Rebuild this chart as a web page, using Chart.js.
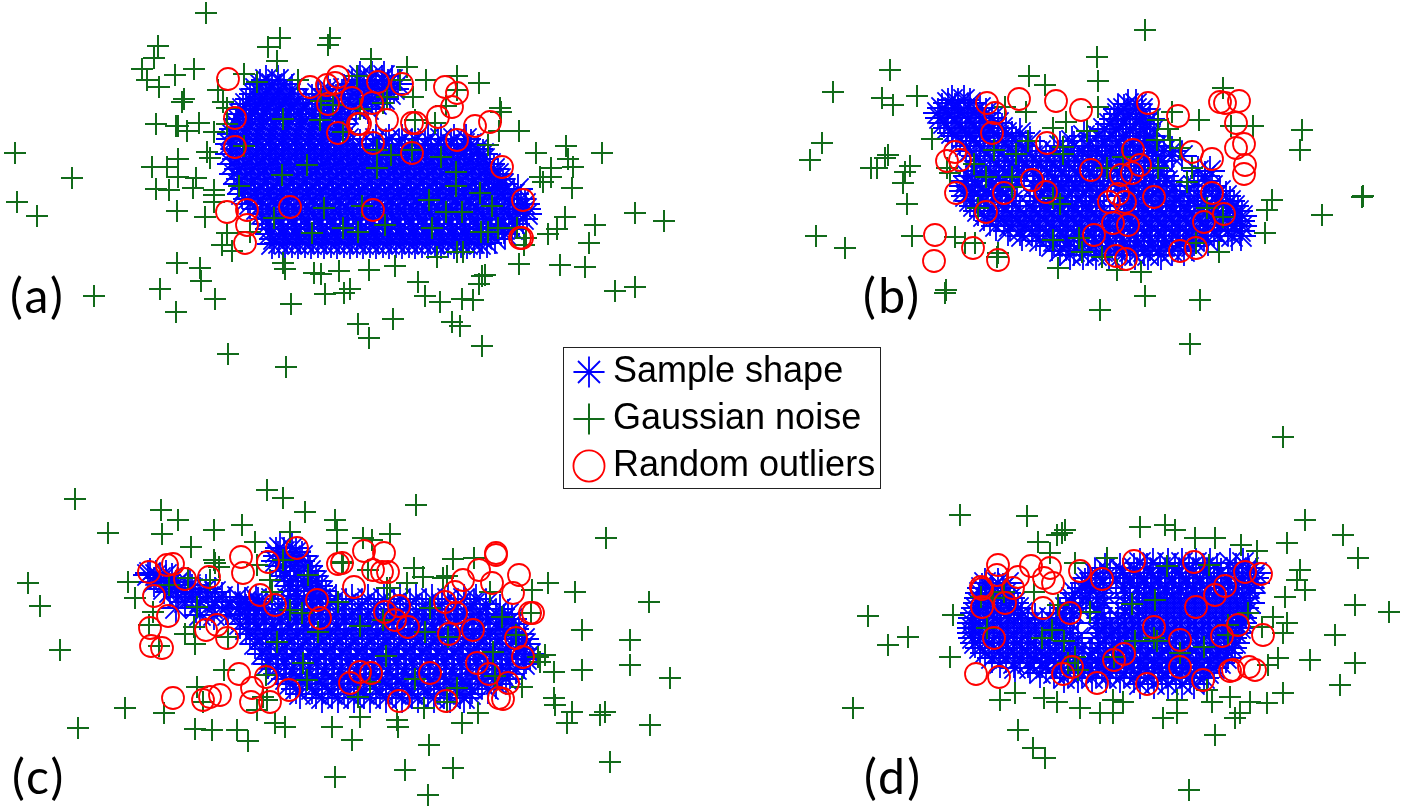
<!DOCTYPE html>
<html><head><meta charset="utf-8">
<style>html,body{margin:0;padding:0;background:#fff;overflow:hidden}canvas{display:block}</style>
<script src="https://cdn.jsdelivr.net/npm/chart.js@4/dist/chart.umd.min.js"></script>
</head><body><canvas id="c" width="1423" height="812"></canvas>
<script>
// Sample shape: each row is [y, x, x, ...]
const sampleA = [
[76,360,372,384],[84,260,272,284,352,364,376,388,398],[94,254,266,278,290,318,330,342,354,366,378,390],
[104,246,258,270,282,294,306,322,336,350,364,376],[114,240,252,264,276,288,300,312,324,336,348],
[124,236,249,262,275,288,301,314,327,340],[134,232,245,258,271,284,297,310,323,336,346],
[144,230,243,256,269,282,295,308,321,334,347,360,373,386,399,412,425,438,451,464,471],
[154,230,243,256,269,282,295,308,321,334,347,360,373,386,399,412,425,438,451,464,477,483],
[164,232,245,258,271,284,297,310,323,336,349,362,375,388,401,414,427,440,453,466,479,490],
[174,234,247,260,273,286,299,312,325,338,351,364,377,390,403,416,429,442,455,468,481,494,498],
[184,238,251,264,277,290,303,316,329,342,355,368,381,394,407,420,433,446,459,472,485,498,503],
[194,242,255,268,281,294,307,320,333,346,359,372,385,398,411,424,437,450,463,476,489,502,514],
[204,250,263,276,289,302,315,328,341,354,367,380,393,406,419,432,445,458,471,484,497,510,525],
[214,262,275,288,301,314,327,340,353,366,379,392,405,418,431,444,457,470,483,496,509,527],
[224,268,281,294,307,320,333,346,359,372,385,398,411,424,437,450,463,476,489,502,515],
[234,270,283,296,309,322,335,348,361,374,387,400,413,426,439,452,465,478,491,505],
[244,272,285,298,311,324,337,350,363,376,389,402,415,428,441,454,467,480],
[80,266,278,358,370,382,392],[89,256,268,280,292,328,344,358,370,382,394],[99,250,262,274,286,298,312,324,336,348,360,372,384],
[109,243,255,267,279,291,303,316,329,342,356,368],[119,238,250,263,276,289,302,315,328,341],[129,234,247,260,273,286,299,312,325,338],
[139,231,244,257,270,283,296,309,322,335,348,376,389,402,415,428,441,454,466],
[149,236,249,262,275,288,301,314,327,340,353,366,379,392,405,418,431,444,457,470,478],
[159,237,250,263,276,289,302,315,328,341,354,367,380,393,406,419,432,445,458,471,484],
[169,239,252,265,278,291,304,317,330,343,356,369,382,395,408,421,434,447,460,473,486,494],
[179,241,254,267,280,293,306,319,332,345,358,371,384,397,410,423,436,449,462,475,488,500],
[189,245,258,271,284,297,310,323,336,349,362,375,388,401,414,427,440,453,466,479,492,505,518],
[199,248,261,274,287,300,313,326,339,352,365,378,391,404,417,430,443,456,469,482,495,508,521],
[209,257,270,283,296,309,322,335,348,361,374,387,400,413,426,439,452,465,478,491,504,517,526],
[219,266,279,292,305,318,331,344,357,370,383,396,409,422,435,448,461,474,487,500,513,523],
[229,270,283,296,309,322,335,348,361,374,387,400,413,426,439,452,465,478,491,504,512],
[239,274,287,300,313,326,339,352,365,378,391,404,417,430,443,456,469,482,495],
[243,279,292,305,318,331,344,357,370,383,396,409,422,435,448,461,474,487]
];
const sampleB = [
[100,952,964],[108,942,955,968,980],[118,940,954,968,982,992],[128,948,962,976,990,1002],
[104,1128,1136],[114,1118,1130,1142],[124,1110,1123,1136,1146],
[136,956,970,984,998,1012,1084,1098,1112,1126,1140,1150],
[146,966,980,994,1008,1022,1060,1074,1088,1102,1116,1130,1144,1156],
[156,976,990,1004,1018,1032,1046,1060,1074,1088,1102,1116,1130,1144,1158,1172,1182],
[166,985,999,1013,1027,1041,1055,1069,1083,1097,1111,1125,1139,1153],
[176,968,982,996,1010,1024,1038,1052,1066,1080,1094,1108,1122,1136,1150,1164,1205],
[186,964,978,992,1006,1034,1048,1062,1076,1090,1104,1118,1132,1146,1160,1174,1194,1212],
[196,966,980,994,1008,1040,1054,1068,1082,1096,1124,1138,1152,1166,1180,1198,1216,1226],
[206,974,988,1002,1016,1030,1044,1058,1072,1086,1100,1128,1142,1156,1170,1184,1198,1212,1226,1234],
[216,984,998,1012,1026,1040,1054,1068,1082,1096,1110,1124,1138,1152,1166,1180,1194,1208,1222,1236,1242],
[226,996,1010,1024,1038,1052,1066,1080,1094,1108,1122,1136,1150,1164,1178,1192,1206,1220,1234,1242],
[236,1022,1036,1050,1064,1078,1092,1106,1120,1134,1148,1162,1176,1190,1204,1218,1232,1241],
[246,1052,1066,1080,1094,1108,1122,1136,1150,1164,1178,1192],
[255,1070,1083,1096,1109,1122,1135,1148,1161],
[103,948,958,970],[113,938,946,960,974,986],[123,944,958,972,986,998],[133,952,966,980,994,1006,1020],
[109,1118,1124,1136,1142],[119,1114,1126,1140,1150],[129,1104,1116,1130,1144,1154],
[141,960,974,988,1002,1016,1030,1072,1090,1105,1119,1133,1147],
[151,970,984,998,1012,1026,1040,1054,1068,1082,1096,1110,1124,1138,1152,1164,1172],
[161,980,994,1008,1022,1036,1050,1064,1078,1092,1106,1120,1134,1148,1162],
[171,975,990,1005,1019,1033,1047,1061,1075,1089,1103,1117,1131,1145,1159,1198,1210],
[181,966,975,989,1003,1017,1041,1055,1069,1083,1097,1111,1125,1139,1153,1167,1205],
[191,964,972,986,1000,1044,1058,1072,1086,1100,1130,1144,1158,1172,1188,1206,1220],
[201,970,984,998,1012,1036,1050,1064,1078,1092,1134,1148,1162,1176,1190,1204,1218,1230],
[211,978,992,1006,1020,1034,1048,1062,1076,1090,1104,1118,1132,1146,1160,1174,1188,1202,1216,1230,1238],
[221,990,1004,1018,1032,1046,1060,1074,1088,1102,1116,1130,1144,1158,1172,1186,1200,1214,1228,1240],
[231,1008,1020,1032,1046,1060,1074,1088,1102,1116,1130,1144,1158,1172,1186,1200,1214,1228,1240],
[241,1040,1054,1068,1082,1096,1110,1124,1138,1152,1166,1180,1194,1208],
[251,1060,1074,1088,1102,1116,1130,1144,1158,1172,1184]
];
const sampleC = [
[573,150],[578,160,172],[585,176,190],[592,170,185,200,215],[602,185,200,215,230,245,258],
[548,280,292],[556,278,290,302],[566,280,294,308],[576,285,298,312],[586,290,304,318],
[596,298,312,326],
[604,250,266,282,298,314,330,346,362,378,394,410,426,442,458,474,486],
[614,240,256,272,288,304,320,336,352,368,384,400,416,432,448,464,480,496,508],
[624,240,256,272,288,304,320,336,352,368,384,400,416,432,448,464,480,496,512],
[634,250,266,282,298,314,330,346,362,378,394,410,426,442,458,474,490,506,519],
[644,255,271,287,303,319,335,351,367,383,399,415,431,447,463,479,495,511,525],
[654,262,278,294,310,326,342,358,374,390,406,422,438,454,470,486,502,518,530],
[664,268,284,300,316,332,348,364,380,396,412,428,444,460,476,492,508,524],
[674,278,294,310,326,342,358,374,390,406,422,438,454,470,486,502,510],
[684,290,306,322,338,354,370,386,402,418,434,450,466,482,496],
[694,300,316,332,348,364,380,396,412,428,444,460,470],
[575,148,156,166],[582,154,166,178],[589,164,178,192,206],[597,178,192,208,222,238],[608,176,196,212,226,240,254],[615,200,214,228],
[552,276,284,296],[561,276,286,300],[571,284,298,310],[581,290,304,316],[591,296,310,322],
[599,256,272,288,304,320,336,352,368,384,400,416,432,448,464,476],
[609,246,262,278,294,310,326,342,358,374,390,406,422,438,454,470,486,500],
[619,248,264,280,296,312,328,344,360,376,392,408,424,440,456,472,488,504,512],
[629,246,258,274,290,306,322,338,354,370,386,402,418,434,450,466,482,498,514],
[639,260,276,292,308,324,340,356,372,388,404,420,436,452,468,484,500,516,524],
[649,266,282,298,314,330,346,362,378,394,410,426,442,458,474,490,506,522],
[659,270,286,302,318,334,350,366,382,398,414,430,446,462,478,494,510,526],
[669,276,292,308,324,340,356,372,388,404,420,436,452,468,484,500,516],
[679,286,302,318,334,350,366,382,398,414,430,446,462,478,494,506],
[689,296,312,328,344,360,376,392,408,424,440,456,472,488],
[698,322,338,354,370,386,402,418,434,450,464]
];
const sampleD = [
[563,1140,1153,1168,1182,1196,1210,1230,1243],
[573,1095,1110,1123,1137,1151,1165,1179,1193,1207,1221,1235,1249,1256],
[583,985,998,1008,1085,1090,1103,1130,1144,1158,1172,1186,1200,1214,1228,1242,1255],
[593,980,993,1006,1075,1090,1104,1125,1139,1153,1167,1181,1195,1209,1223,1237,1250],
[603,978,991,1004,1014,1072,1090,1104,1125,1139,1153,1167,1181,1195,1209,1223,1237,1250],
[613,975,988,1001,1014,1022,1060,1074,1098,1125,1139,1153,1167,1181,1195,1209,1223,1237,1246],
[623,972,986,1000,1014,1028,1042,1056,1070,1096,1110,1124,1138,1152,1166,1180,1194,1208,1222,1236,1242],
[633,972,986,1000,1014,1028,1042,1056,1070,1098,1112,1126,1140,1154,1168,1182,1196,1210,1224,1236],
[643,975,989,1003,1017,1031,1045,1059,1073,1100,1114,1128,1142,1156,1170,1184,1198,1212,1226,1235],
[653,985,999,1013,1027,1041,1055,1069,1092,1106,1120,1134,1148,1162,1176,1190,1204,1218,1228],
[663,1000,1014,1028,1042,1056,1070,1084,1098,1112,1126,1140,1154,1168,1182,1196,1210,1220],
[673,1040,1054,1068,1082,1096,1110,1124,1138,1152,1166,1180,1194,1208],
[684,1140,1154,1168,1182,1194],
[568,1105,1120,1134,1147,1160,1175,1189,1203,1217,1236,1248],
[578,1088,1100,1116,1130,1144,1158,1172,1186,1200,1214,1228,1242,1254],
[588,982,992,1003,1082,1096,1124,1137,1151,1165,1179,1193,1207,1221,1235,1249],
[598,979,986,998,1010,1072,1086,1100,1130,1146,1160,1174,1188,1202,1216,1230,1244],
[608,976,984,997,1009,1018,1066,1080,1097,1130,1146,1160,1174,1188,1202,1216,1230,1244],
[618,973,980,994,1008,1021,1035,1050,1064,1102,1118,1132,1146,1160,1174,1188,1202,1216,1230,1242],
[628,972,979,993,1007,1021,1035,1049,1063,1104,1118,1132,1146,1160,1174,1188,1202,1216,1230,1240],
[638,973,980,994,1008,1022,1036,1050,1064,1078,1106,1120,1134,1148,1162,1176,1190,1204,1218,1232],
[648,980,994,1008,1022,1036,1050,1064,1082,1098,1112,1126,1140,1154,1168,1182,1196,1210,1224,1232],
[658,992,1006,1020,1034,1048,1062,1076,1090,1104,1118,1132,1146,1160,1174,1188,1202,1216,1226],
[668,1015,1030,1046,1060,1074,1088,1102,1116,1130,1144,1158,1172,1186,1200,1214],
[678,1064,1078,1092,1106,1120,1134,1148,1162,1176,1190,1204]
];
// Gaussian noise: flat x,y pairs
const noiseA = [206,13,158,46,154,58,142,69,147,80,159,87,175,75,194,69,184,99,182,102,178,126,176,126,156,124,187,131,199,123,214,132,218,90,223,102,227,108,244,74,257,82,280,38,268,47,277,61,330,38,328,45,371,59,207,152,210,158,178,159,152,167,167,167,178,177,196,178,156,189,193,188,214,190,244,146,283,119,227,124,239,186,298,80,321,101,333,105,320,120,343,132,357,76,360,109,387,97,383,103,400,80,377,150,391,155,377,168,307,165,282,175,
407,67,426,80,457,76,479,83,457,90,413,97,446,106,500,108,501,112,499,131,519,131,488,145,435,123,415,120,412,150,441,157,456,172,456,186,429,200,480,193,492,206,446,212,462,212,432,228,481,232,488,232,498,228,517,228,526,238,524,245,536,153,566,146,568,159,573,167,602,153,551,168,551,177,540,177,543,182,572,188,565,217,557,229,548,234,595,225,589,243,635,213,664,221,457,252,437,257,463,252,
169,190,177,211,205,217,214,195,214,202,177,263,200,268,201,281,160,289,215,299,176,312,228,354,286,367,291,304,222,245,232,251,227,233,250,232,274,218,283,263,285,269,314,273,321,274,339,271,369,270,395,266,325,294,344,293,350,289,418,282,425,296,440,302,462,299,473,300,452,322,460,326,393,319,358,324,369,338,482,346,479,284,482,276,485,275,519,264,312,233,343,228,358,232,385,225,324,208,362,206,
560,265,585,267,615,291,635,287,94,296,15,153,72,178,17,202,37,216];
const noiseB = [917,96,1029,76,1045,85,1098,81,1098,107,1223,88,1005,107,1026,112,1066,122,1053,128,1087,131,1158,120,1172,112,1199,120,1231,126,1253,126,1168,129,1157,140,1170,140,1180,148,932,139,1028,141,1063,147,1063,154,994,150,1016,154,974,164,986,177,947,168,950,173,910,166,905,172,903,183,907,204,1107,168,1123,157,1158,168,1192,168,1187,182,1012,177,1012,187,1060,204,1053,198,978,208,1207,208,1223,217,1267,210,1265,233,912,236,955,237,965,243,975,243,998,253,997,257,1053,240,1079,238,1082,252,1102,257,1058,268,1117,270,1141,272,1196,243,1219,252,
1145,30,1097,57,890,70,833,92,882,98,893,105,822,143,810,160,888,155,885,158,877,168,871,168,816,236,845,248,1302,130,1300,150,1272,200,1322,215,1363,196,1362,197,946,290,945,293,1100,310,1200,300,1145,296,1190,344];
const noiseC = [162,534,178,520,214,530,242,525,191,547,255,542,290,532,337,530,337,543,215,563,219,567,214,560,257,565,283,560,308,575,342,562,128,582,135,598,169,585,188,578,210,580,197,607,153,612,149,625,194,627,185,634,195,644,228,637,159,646,270,580,272,592,290,610,302,613,318,632,338,602,277,642,224,670,266,675,197,687,203,702,263,697,267,700,125,708,164,713,195,729,257,710,275,723,285,727,307,680,303,663,237,730,
390,534,363,538,372,540,343,563,368,570,414,568,423,577,453,559,474,558,447,576,443,578,407,583,387,588,390,588,548,583,490,592,532,590,430,608,502,617,531,613,360,626,383,620,425,632,448,637,516,635,386,656,493,652,538,657,545,655,554,672,540,662,415,679,370,682,495,676,358,697,457,688,424,708,447,702,478,713,462,723,360,717,397,720,398,727,554,698,555,705,567,723,522,687,
75,499,108,533,28,583,40,606,60,650,78,728,606,538,649,602,575,592,582,630,630,640,630,665,670,678,605,712,572,712,650,725,600,715,610,762,453,768,405,770,335,777,428,795,429,745,352,740,332,727,248,741,212,730,267,490,283,498,416,505,305,512,335,520,161,510,582,670];
const noiseD = [1038,542,1050,553,1062,533,1195,538,1215,538,1241,545,1257,551,1287,543,1167,566,1107,558,1075,563,1209,565,981,597,993,598,1004,592,1034,592,1058,605,1090,612,1132,604,1155,600,987,628,1042,638,1052,630,1064,641,1135,641,1157,641,1154,638,1204,647,1228,625,1228,635,1248,613,1262,627,1075,657,1068,663,1078,670,1114,657,1180,653,1285,597,1273,617,1287,623,1283,633,1268,665,1278,658,950,657,953,615,1000,700,1015,693,1044,698,1057,702,1080,708,1100,713,1113,700,1123,702,1113,713,1177,700,1177,713,1163,718,1207,690,1212,702,1230,697,1250,702,1267,703,1283,693,1240,713,1235,718,
1283,437,960,515,1027,516,1305,520,1343,535,1358,558,1355,605,1389,612,1300,570,1297,580,1305,590,1335,635,1355,663,1340,685,1310,660,868,616,908,637,888,645,853,708,1018,730,1033,748,1045,758,1189,790,1215,735,1065,530,1057,535,1140,527,1165,525,1175,530];
// Random outliers: flat x,y pairs
const outliersA = [228,79,235,118,235,147,310,87,327,85,335,83,338,77,328,104,352,98,372,103,378,82,358,124,360,124,387,120,338,133,373,143,402,84,445,87,457,93,452,107,438,117,475,126,490,122,412,123,416,123,457,140,412,153,502,167,523,200,520,238,227,212,247,225,245,243,247,210,290,207,522,238,373,210];
const outliersB = [987,103,1019,99,1056,101,1081,110,1148,103,1178,116,1220,102,1225,103,1239,101,1236,123,1244,144,1236,148,1245,165,1244,174,1192,152,1212,159,1047,143,995,113,992,133,955,152,947,161,960,160,956,193,935,235,934,261,973,248,998,260,986,212,1004,193,1032,180,1046,192,1091,170,1121,175,1132,173,1140,165,1133,150,1109,202,1118,194,1125,202,1154,197,1113,223,1128,225,1094,235,1116,256,1126,259,1180,251,1196,248,1204,222,1224,214,1212,193];
const outliersC = [149,572,154,596,167,565,173,564,185,579,209,577,168,616,150,628,151,646,162,648,206,630,217,625,227,638,241,557,243,573,268,562,275,605,317,600,320,618,338,564,173,698,203,700,210,697,220,695,239,674,252,688,251,702,270,702,266,677,289,690,297,548,260,595,364,551,384,553,373,570,382,572,388,572,354,587,342,563,463,580,479,570,496,553,496,555,492,583,519,575,513,593,530,613,533,613,455,592,445,602,456,613,449,634,516,638,523,657,477,663,489,674,499,698,503,699,508,683,446,701,430,673,399,701,371,673,360,672,399,606,385,612,395,620,408,627,473,630,350,683];
const outliersD = [998,565,1031,566,1050,568,997,575,1018,577,1044,578,1053,583,1013,588,982,589,981,587,982,607,1005,603,1043,608,1070,613,1080,571,1102,579,1134,561,1194,562,1245,572,1261,574,1225,586,1215,595,1196,607,1154,627,1180,640,1222,636,1238,625,1263,635,994,638,976,674,999,677,1063,674,1072,667,1114,660,1124,654,1147,684,1180,667,1230,671,1233,670,1249,667,1255,670,1203,680,1097,683];
const seriesNames = ['Sample shape','Gaussian noise','Random outliers'];
const panelLabels = ['(a)','(b)','(c)','(d)'];

const rowsToPoints = rows => rows.flatMap(r => r.slice(1).map(x => ({x, y:r[0]})));
const pairsToPoints = a => { const o=[]; for(let i=0;i<a.length;i+=2) o.push({x:a[i],y:a[i+1]}); return o; };

const panelText = {
  id:'panelText',
  afterDraw(chart){
    const {ctx,scales:{x,y}} = chart;
    ctx.save();
    ctx.font = '48px Lato, "Open Sans", sans-serif';
    ctx.letterSpacing = '2.5px';
    ctx.fillStyle = '#000';
    ctx.textBaseline = 'alphabetic';
    const pos = [[10,313],[863,313],[12,794],[864,794]];
    panelLabels.forEach((t,i)=>ctx.fillText(t,x.getPixelForValue(pos[i][0]),y.getPixelForValue(pos[i][1])));
    ctx.strokeStyle = '#222'; ctx.lineWidth = 1;
    ctx.strokeRect(563.5,347.5,317,141);
    ctx.restore();
  },
  beforeDraw(chart){
    const l = chart.legend;
    const w = l.right-l.left, h = l.bottom-l.top;
    l.left = 572; l.top = 343; l.right = 572+w; l.bottom = 343+h;
  }
};

new Chart(document.getElementById('c'),{
  type:'scatter',
  data:{datasets:[
    {label:seriesNames[0],data:[sampleA,sampleB,sampleC,sampleD].flatMap(rowsToPoints),pointStyle:'star',pointRadius:15,pointBorderWidth:1.8,borderColor:'#0000ff',backgroundColor:'#0000ff',order:3,showLine:false},
    {label:seriesNames[1],data:[noiseA,noiseB,noiseC,noiseD].flatMap(pairsToPoints),pointStyle:'cross',pointRadius:11,pointBorderWidth:2,borderColor:'#126b1a',backgroundColor:'#126b1a',order:2,showLine:false},
    {label:seriesNames[2],data:[outliersA,outliersB,outliersC,outliersD].flatMap(pairsToPoints),pointStyle:'circle',pointRadius:11,pointBorderWidth:1.8,borderColor:'#ff0000',backgroundColor:'rgba(0,0,0,0)',order:1,showLine:false}
  ]},
  options:{
    responsive:false,animation:false,
    layout:{padding:0,autoPadding:false},
    events:[],
    scales:{
      x:{type:'linear',min:0,max:1423,display:false},
      y:{type:'linear',min:0,max:812,reverse:true,display:false}
    },
    plugins:{
      tooltip:{enabled:false},
      legend:{display:true,position:'chartArea',align:'start',
        labels:{usePointStyle:true,boxWidth:12,boxHeight:22,padding:11,color:'#000',
          sort:(a,b)=>a.datasetIndex-b.datasetIndex,
          font:{family:'"Liberation Sans", Arial, sans-serif',size:36}}}
    }
  },
  plugins:[panelText]
});
</script></body></html>
